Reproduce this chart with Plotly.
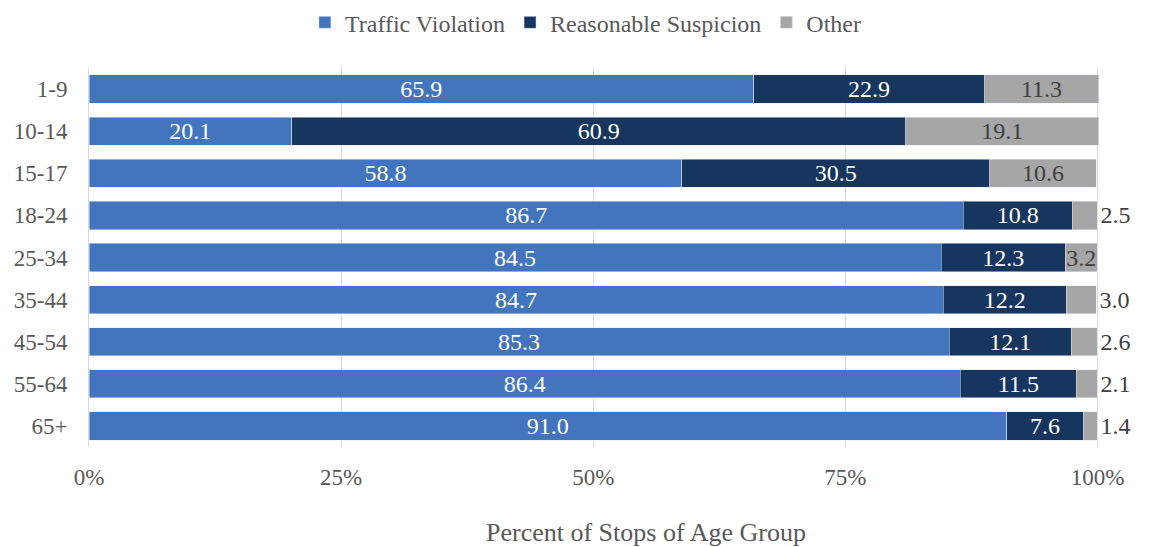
import plotly.graph_objects as go

# age groups, top to bottom
age_groups = ["1-9", "10-14", "15-17", "18-24", "25-34", "35-44", "45-54", "55-64", "65+"]

traffic_violation = [65.9, 20.1, 58.8, 86.7, 84.5, 84.7, 85.3, 86.4, 91.0]
reasonable_suspicion = [22.9, 60.9, 30.5, 10.8, 12.3, 12.2, 12.1, 11.5, 7.6]
other = [11.3, 19.1, 10.6, 2.5, 3.2, 3.0, 2.6, 2.1, 1.4]

x_ticks = [0, 25, 50, 75, 100]
x_tick_labels = ["0%", "25%", "50%", "75%", "100%"]

font_family = "Liberation Serif, DejaVu Serif, serif"
text_grey = "#595959"
label_size = 24

fig = go.Figure()

fig.add_trace(go.Bar(
    y=age_groups, x=traffic_violation, orientation="h",
    name="Traffic Violation", marker_color="#4375BE",
    text=[f"{v:.1f}" for v in traffic_violation],
    textposition="inside", insidetextanchor="middle",
    insidetextfont=dict(color="white", size=label_size, family=font_family),
))
fig.add_trace(go.Bar(
    y=age_groups, x=reasonable_suspicion, orientation="h",
    name="Reasonable Suspicion", marker_color="#16365F",
    text=[f"{v:.1f}" for v in reasonable_suspicion],
    textposition="inside", insidetextanchor="middle",
    insidetextfont=dict(color="white", size=label_size, family=font_family),
))
# small "other" slices get their label outside the bar, like the original
other_pos = ["inside" if v >= 3.1 else "outside" for v in other]
fig.add_trace(go.Bar(
    y=age_groups, x=other, orientation="h",
    name="Other", marker_color="#A6A6A6",
    text=[f"{v:.1f}" for v in other],
    textposition=other_pos, insidetextanchor="middle",
    insidetextfont=dict(color="#404040", size=label_size, family=font_family),
    outsidetextfont=dict(color="#404040", size=label_size, family=font_family),
    cliponaxis=False,
))

fig.update_layout(
    barmode="stack",
    bargap=0.33,
    width=1149, height=547,
    # page body has an 8px margin, so everything is nudged up/left by 8
    margin=dict(l=81, r=58, t=60, b=108, autoexpand=False),
    plot_bgcolor="white", paper_bgcolor="white",
    font=dict(family=font_family, size=23, color=text_grey),
    legend=dict(
        orientation="h", x=0.492, xanchor="center", y=1.06, yanchor="bottom",
        font=dict(size=24, color=text_grey, family=font_family),
        traceorder="normal",
    ),
)
fig.update_traces(constraintext="none")

# axis title sits a bit right of centre in the original, so use an annotation
fig.add_annotation(
    text="Percent of Stops of Age Group", xref="paper", yref="paper",
    x=0.551, y=-0.225, xanchor="center", yanchor="middle", showarrow=False,
    font=dict(size=26, color=text_grey, family=font_family),
)

fig.update_xaxes(
    range=[0, 100.15], tickvals=x_ticks, ticktext=x_tick_labels,
    showgrid=True, gridcolor="#D9D9D9", gridwidth=1,
    zeroline=False, showline=False, ticks="", ticklabelstandoff=14,
    tickfont=dict(size=23, color=text_grey, family=font_family),
)
fig.update_yaxes(
    autorange="reversed", showgrid=False, ticks="", ticklabelstandoff=16,
    showline=True, linecolor="#D9D9D9", automargin=False,
    tickfont=dict(size=23, color=text_grey, family=font_family),
)

fig.write_html("out.html")
